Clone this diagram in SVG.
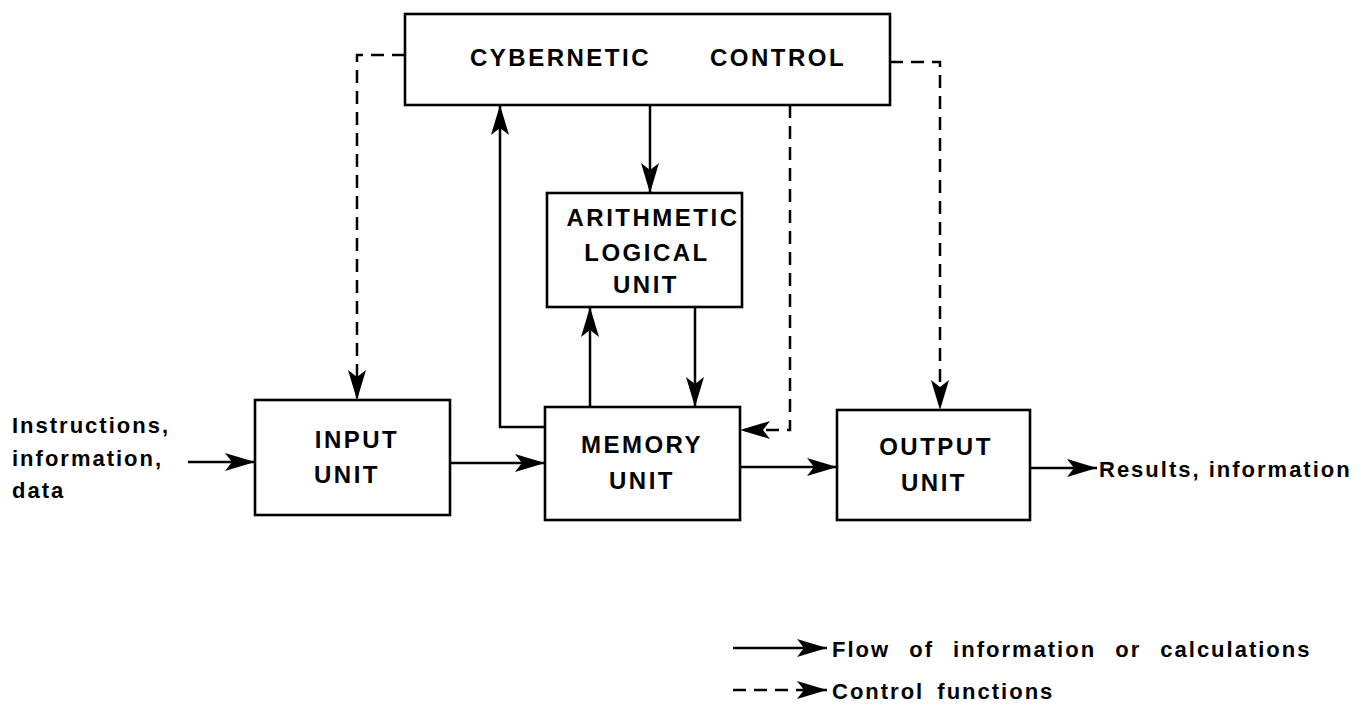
<svg xmlns="http://www.w3.org/2000/svg" width="1365" height="712" viewBox="0 0 1365 712">
  <style>
    .box { fill: #fff; stroke: #000; stroke-width: 2.6; }
    .lbl { font-family: "Liberation Sans", Arial, sans-serif; font-weight: bold; font-size: 24px; letter-spacing: 2.5px; fill: #000; }
    .side { font-family: "Liberation Sans", Arial, sans-serif; font-weight: bold; font-size: 22px; letter-spacing: 2px; fill: #000; }
    .flow { fill: none; stroke: #000; stroke-width: 2.5; }
    .ctrl { fill: none; stroke: #000; stroke-width: 2.5; stroke-dasharray: 13 8; }
  </style>
  <defs>
    <!-- long, slightly notched arrowhead -->
    <marker id="arrow" markerUnits="userSpaceOnUse" markerWidth="32" markerHeight="20" refX="30" refY="10" orient="auto">
      <path d="M0,1 L30,10 L0,19 L7,10 Z" fill="#000"/>
    </marker>
  </defs>

  <rect width="1365" height="712" fill="#fff"/>

  <!-- connectors -->
  <g id="connectors">
    <!-- information flow -->
    <line class="flow" x1="188" y1="462" x2="255" y2="462" marker-end="url(#arrow)"/>
    <line class="flow" x1="450" y1="463" x2="545" y2="463" marker-end="url(#arrow)"/>
    <line class="flow" x1="740" y1="467" x2="837" y2="467" marker-end="url(#arrow)"/>
    <line class="flow" x1="1030" y1="468" x2="1097" y2="468" marker-end="url(#arrow)"/>
    <line class="flow" x1="650" y1="105" x2="650" y2="193" marker-end="url(#arrow)"/>
    <line class="flow" x1="590" y1="407" x2="590" y2="307" marker-end="url(#arrow)"/>
    <line class="flow" x1="695" y1="307" x2="695" y2="407" marker-end="url(#arrow)"/>
    <polyline class="flow" points="545,427 500,427 500,105" marker-end="url(#arrow)"/>
    <!-- control functions -->
    <polyline class="ctrl" points="405,55 357,55 357,400" marker-end="url(#arrow)"/>
    <polyline class="ctrl" points="790,105 790,430 740,430" marker-end="url(#arrow)"/>
    <polyline class="ctrl" points="890,62 940,62 940,410" marker-end="url(#arrow)"/>
  </g>

  <g id="cybernetic-control">
    <rect class="box" x="405" y="14" width="485" height="91"/>
    <text class="lbl" x="470" y="66" font-size="25" letter-spacing="2.7">CYBERNETIC</text>
    <text class="lbl" x="710" y="66" font-size="25" letter-spacing="2.7">CONTROL</text>
  </g>

  <g id="alu">
    <rect class="box" x="547" y="193" width="195" height="114"/>
    <text class="lbl" x="653" y="226" text-anchor="middle">ARITHMETIC</text>
    <text class="lbl" x="647" y="261" text-anchor="middle">LOGICAL</text>
    <text class="lbl" x="646" y="293" text-anchor="middle">UNIT</text>
  </g>

  <g id="input-unit">
    <rect class="box" x="255" y="400" width="195" height="115"/>
    <text class="lbl" x="357" y="448" text-anchor="middle">INPUT</text>
    <text class="lbl" x="347" y="483" text-anchor="middle">UNIT</text>
  </g>

  <g id="memory-unit">
    <rect class="box" x="545" y="407" width="195" height="113"/>
    <text class="lbl" x="642" y="453" text-anchor="middle">MEMORY</text>
    <text class="lbl" x="642" y="489" text-anchor="middle">UNIT</text>
  </g>

  <g id="output-unit">
    <rect class="box" x="837" y="410" width="193" height="110"/>
    <text class="lbl" x="936" y="455" text-anchor="middle">OUTPUT</text>
    <text class="lbl" x="934" y="491" text-anchor="middle">UNIT</text>
  </g>

  <g id="source-label">
    <text class="side" x="12" y="433">Instructions,</text>
    <text class="side" x="12" y="466">information,</text>
    <text class="side" x="12" y="498">data</text>
  </g>

  <g id="result-label">
    <text class="side" x="1099" y="477" letter-spacing="1.5">Results, information</text>
  </g>

  <g id="legend">
    <line class="flow" x1="733" y1="648" x2="827" y2="648" marker-end="url(#arrow)"/>
    <text class="side" x="832" y="657" letter-spacing="3.8" word-spacing="11">Flow of information or calculations</text>
    <line class="ctrl" x1="733" y1="690" x2="827" y2="690" stroke-dasharray="10 6" marker-end="url(#arrow)"/>
    <text class="side" x="832" y="699" letter-spacing="0.5" word-spacing="5">Control functions</text>
  </g>
</svg>
